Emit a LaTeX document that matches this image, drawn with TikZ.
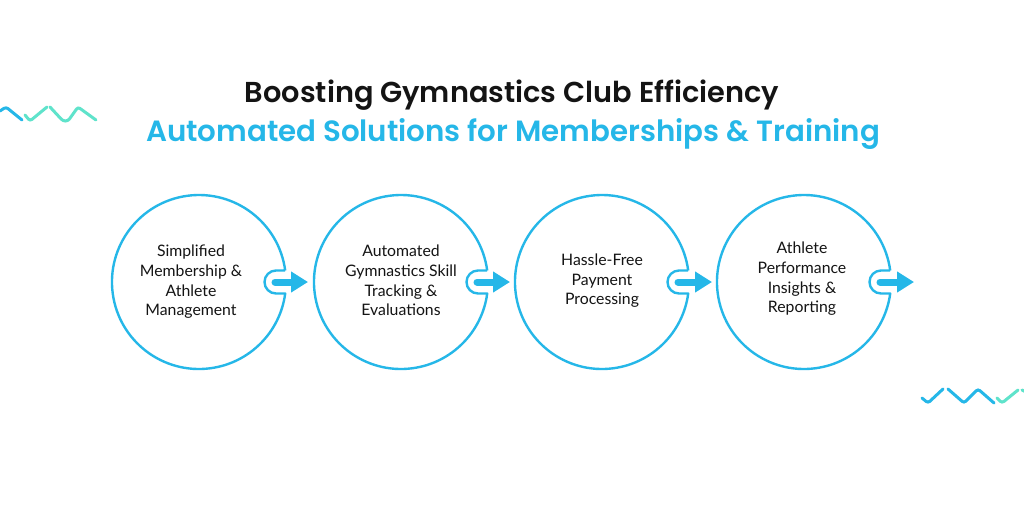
\documentclass[tikz,border=0pt]{standalone}
\usepackage{fontspec}
\setmainfont{Lato}
\newfontfamily\titlefont{Poppins SemiBold}
\usetikzlibrary{arrows.meta}
\definecolor{skyb}{HTML}{25B7E8}
\definecolor{mint}{HTML}{5FE3CB}
\definecolor{inkk}{HTML}{141414}
\tikzset{
 x=1pt,y=-1pt,
 ttl/.style={font=\titlefont,inner sep=0pt,anchor=center},
 lab/.style={font=\fontsize{15.8}{19.6}\selectfont,align=center,text=inkk,inner sep=0pt},
 ring/.style={draw=skyb,line width=2.4pt,line join=round},
 flow/.style={draw=skyb,line width=7pt,line cap=round,-{Triangle[length=17pt,width=20pt]}},
 wave/.style={line width=3pt,rounded corners=2.5pt,line cap=round},
}
\newcommand{\ringat}[1]{%
 \draw[ring] (#1) ++(86.2,-11.5) arc[start angle=-7.6,end angle=-352.4,radius=87] -- ++(-9.2,0)
   arc[start angle=90,end angle=270,radius=11.5] -- ++(9.2,0);}
\begin{document}
\begin{tikzpicture}
\useasboundingbox (0,0) rectangle (1024,512);
\fill[white] (0,0) rectangle (1024,512);
\node[ttl,text=inkk,font=\titlefont\fontsize{28.8}{30}\selectfont] (t1) at (512,95) {Boosting Gymnastics Club Efficiency};
\node[ttl,text=skyb,font=\titlefont\fontsize{29.3}{30}\selectfont] (t2) at (513,134) {Automated Solutions for Memberships \& Training};
\coordinate (c1) at (199,282);\coordinate (c2) at (401,282);\coordinate (c3) at (602,282);\coordinate (c4) at (804,282);
\foreach \c in {c1,c2,c3,c4}{\ringat{\c}}
\node[lab] (n1) at (191,282) {Simplified\\Membership \&\\Athlete\\Management};
\node[lab] (n2) at (401,280.5) {Automated\\Gymnastics Skill\\Tracking \&\\Evaluations};
\node[lab] (n3) at (602,281) {Hassle-Free\\Payment\\Processing};
\node[lab] (n4) at (802,279) {Athlete\\Performance\\Insights \&\\Reporting};
\foreach \i/\xa/\xb in {1/275/308,2/477/510,3/678/712,4/880/914}{
 \coordinate (a\i) at (\xa,282);\coordinate (b\i) at (\xb,282);
 \draw[flow] (a\i) -- (b\i);}
\draw[wave,skyb] (0,111)--(6,107)--(22,120);
\draw[wave,mint] (25,115)--(30,121)--(47,107);
\draw[wave,mint] (50,107)--(63,121)--(68,121)--(78,107)--(96,120);
\draw[wave,skyb] (922,398)--(928,403)--(943,389);
\draw[wave,skyb] (948,389)--(964,403)--(978,389)--(994,403);
\draw[wave,mint] (997,398)--(1002,403)--(1018,390);
\draw[wave,mint] (1022,390)--(1026,392);
\end{tikzpicture}
\end{document}
